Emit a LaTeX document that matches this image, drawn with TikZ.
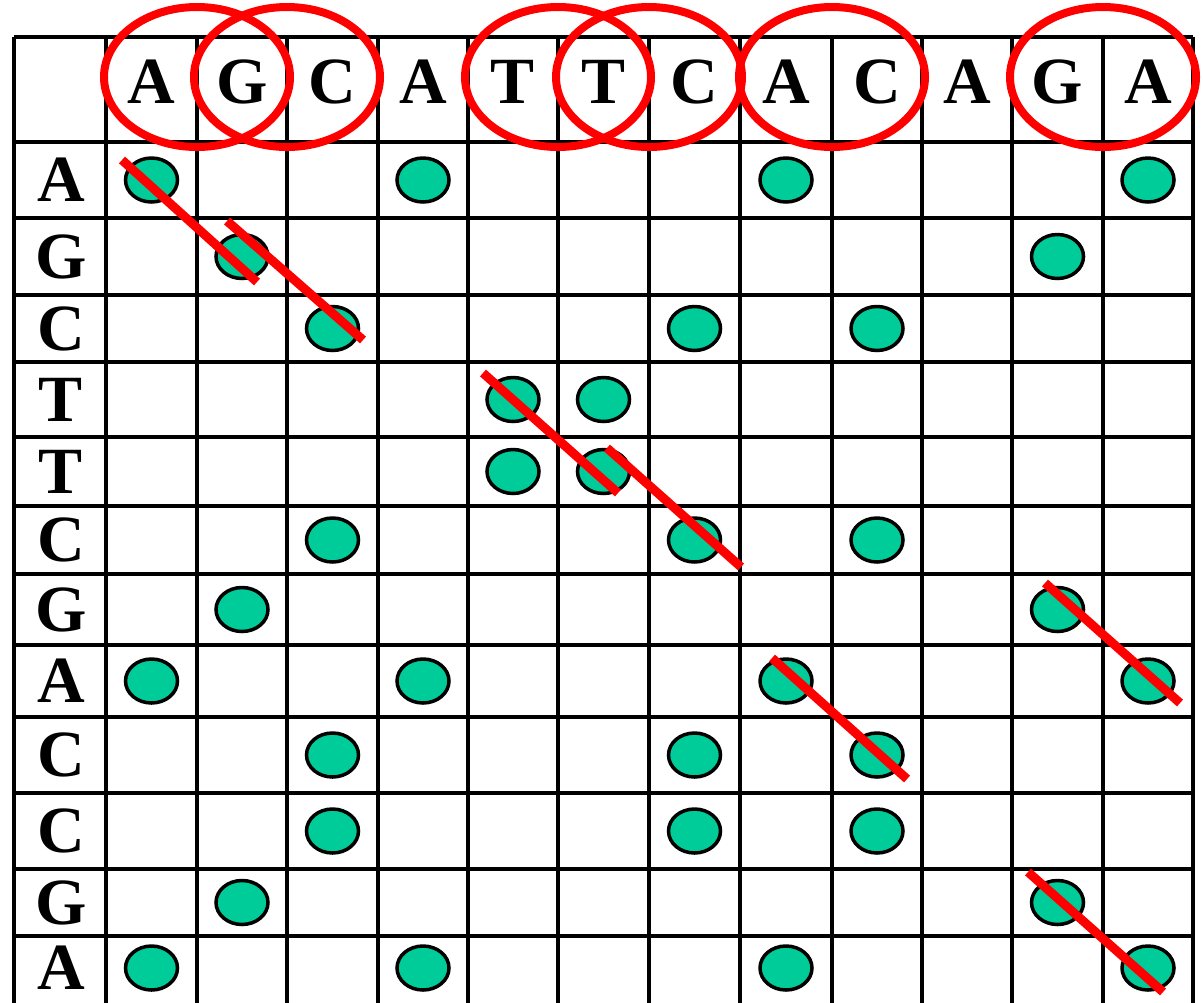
\documentclass[tikz,border=0pt]{standalone}
\usepackage{fontspec}
\setmainfont{Liberation Serif}
\usetikzlibrary{shapes.geometric}

\definecolor{dotgreen}{RGB}{0,204,153}

\begin{document}
\begin{tikzpicture}[x=0.5pt, y=-0.5pt, line width=1.75pt,
  every node/.style={font=\fontsize{33}{34}\selectfont\bfseries, inner sep=0pt},
  hit/.style={draw, fill=dotgreen, ellipse, minimum width=26pt, minimum height=22pt},
  pairring/.style={draw=red, line width=4pt},
  diagline/.style={draw=red, line width=4.5pt}]
\useasboundingbox (0,0) rectangle (1203,1002);
\clip (0,0) rectangle (1203,1002);
\def\colx{{14,106,197,287,378,468,558,649,740,832,922,1012,1103,1193}}
\def\rowy{{37,142,218,295,362,437,506,574,645,717,793,869,936,1000}}
% grid
\foreach \i in {0,...,13}{%
  \pgfmathsetmacro{\gx}{\colx[\i]}%
  \pgfmathsetmacro{\gy}{\rowy[\i]}%
  \draw (\gx,37) -- (\gx,1010);
  \ifnum\i<13 \draw (14,\gy) -- (1193,\gy); \fi}
% matches
\foreach \r/\cols in {1/{1,4,8,12},2/{2,11},3/{3,7,9},4/{5,6},5/{5,6},6/{3,7,9},
    7/{2,11},8/{1,4,8,12},9/{3,7,9},10/{3,7,9},11/{2,11},12/{1,4,8,12}}{%
  \foreach \c in \cols {%
    \pgfmathtruncatemacro{\cn}{\c+1}%
    \pgfmathtruncatemacro{\rn}{\r+1}%
    \pgfmathsetmacro{\xa}{\colx[\c]}\pgfmathsetmacro{\xb}{\colx[\cn]}%
    \pgfmathsetmacro{\ya}{\rowy[\r]}\pgfmathsetmacro{\yb}{\rowy[\rn]}%
    \node[hit] (m-\r-\c) at ({(\xa+\xb)/2},{(\ya+\yb)/2}) {};}}
% sequences
\foreach \l [count=\c] in {A,G,C,A,T,T,C,A,C,A,G,A}{%
  \pgfmathtruncatemacro{\cn}{\c+1}%
  \pgfmathsetmacro{\xa}{\colx[\c]}\pgfmathsetmacro{\xb}{\colx[\cn]}%
  \node (h\c) at ({(\xa+\xb)/2},82) {\l};}
\foreach \l [count=\r] in {A,G,C,T,T,C,G,A,C,C,G,A}{%
  \pgfmathtruncatemacro{\rn}{\r+1}%
  \pgfmathsetmacro{\ya}{\rowy[\r]}\pgfmathsetmacro{\yb}{\rowy[\rn]}%
  \node (r\r) at (61,{(\ya+\yb)/2}) {\l};}
% diagonals
\draw[diagline] (122,160) -- (257,282);
\draw[diagline] (227,221) -- (363,340);
\draw[diagline] (483,373) -- (618,493);
\draw[diagline] (607,448) -- (741,567);
\draw[diagline] (772,658) -- (907,779);
\draw[diagline] (1045,583) -- (1180,703);
\draw[diagline] (1028,872) -- (1163,992);
% pairs
\foreach \ex in {197,287,558,649,832,1103}
  \draw[pairring] (\ex,77) ellipse [x radius=93, y radius=70];
\end{tikzpicture}
\end{document}
